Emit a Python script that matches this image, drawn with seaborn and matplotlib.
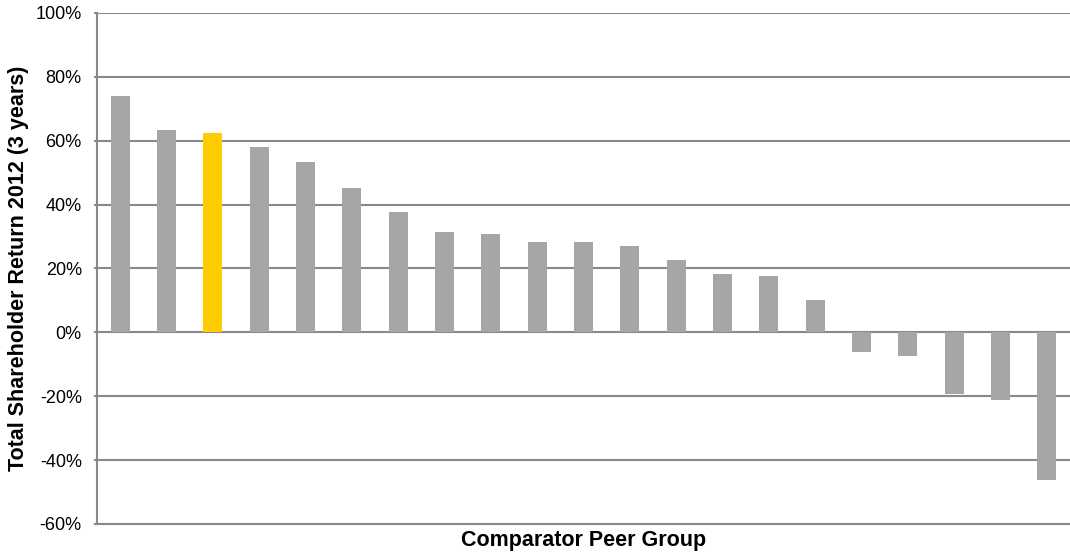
import matplotlib
matplotlib.use("Agg")
import matplotlib.pyplot as plt
import seaborn as sns
import pandas as pd
from matplotlib.ticker import FuncFormatter

peers = [f"Peer {i}" for i in range(1, 22)]
tsr = [74.0, 63.4, 62.3, 57.9, 53.4, 45.2, 37.7, 31.4, 30.8, 28.3, 28.3,
       27.0, 22.6, 18.3, 17.7, 10.1, -6.1, -7.4, -19.4, -21.3, -46.3]
highlight = "Peer 3"
yticks = [-60, -40, -20, 0, 20, 40, 60, 80, 100]

grey_bar = "#a6a6a6"
yellow_bar = "#ffcc00"
grid_col = "#898989"

df = pd.DataFrame({"peer": peers, "tsr": tsr})
palette = {p: (yellow_bar if p == highlight else grey_bar) for p in peers}

sns.set_theme(style="white")
plt.rcParams["font.family"] = ["Liberation Sans", "DejaVu Sans"]

fig = plt.figure(figsize=(10.7, 5.58), dpi=100)
ax = fig.add_axes([0.0907, 0.061, 0.9093, 0.916])

sns.barplot(data=df, x="peer", y="tsr", hue="peer", palette=palette,
            legend=False, width=0.41, saturation=1, ax=ax, zorder=3,
            edgecolor="none", linewidth=0)

ax.set_ylim(-60, 100)
ax.set_xlim(-0.5, len(peers) - 0.5)
ax.set_yticks(yticks)
ax.yaxis.set_major_formatter(FuncFormatter(lambda v, p: f"{int(v)}%"))
ax.grid(axis="y", color=grid_col, linewidth=1.5, zorder=0)
ax.set_axisbelow(True)
for s in ["top", "right"]:
    ax.spines[s].set_visible(False)
for s in ["left", "bottom"]:
    ax.spines[s].set_color(grid_col)
    ax.spines[s].set_linewidth(1.5)
ax.tick_params(axis="y", which="both", left=True, length=2.5, width=1.5,
               color=grid_col, labelsize=13, labelcolor="#000000", pad=8.5)
ax.tick_params(axis="x", bottom=False, labelbottom=False)
ax.set_xlabel("Comparator Peer Group", fontsize=15.5, fontweight="bold",
              labelpad=4, color="black")
ax.set_ylabel("Total Shareholder Return 2012 (3 years)", fontsize=15.5,
              fontweight="bold", labelpad=5, color="black")

fig.savefig("out.png", dpi=100)
